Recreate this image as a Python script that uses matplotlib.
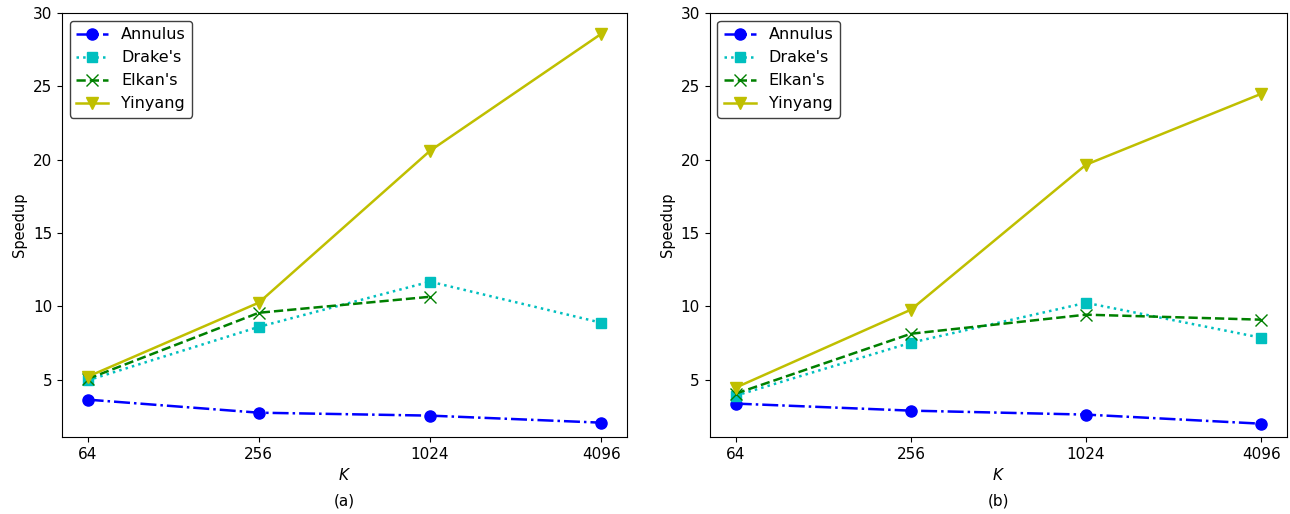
import numpy as np
import matplotlib
matplotlib.use("Agg")
import matplotlib.pyplot as plt
from matplotlib.ticker import FixedLocator, FixedFormatter, NullLocator

K = [64, 256, 1024, 4096]
K_LABELS = ["64", "256", "1024", "4096"]

# panel (a)
annulus_a = [3.64, 2.75, 2.55, 2.07]
drake_a = [4.95, 8.6, 11.68, 8.88]
elkan_a = [5.05, 9.56, 10.65]
yinyang_a = [5.2, 10.25, 20.6, 28.57]

# panel (b)
annulus_b = [3.37, 2.89, 2.62, 2.0]
drake_b = [3.91, 7.52, 10.24, 7.86]
elkan_b = [4.05, 8.13, 9.43, 9.09]
yinyang_b = [4.46, 9.77, 19.65, 24.48]

plt.rcParams["xtick.labelsize"] = 11
plt.rcParams["ytick.labelsize"] = 11

fig = plt.figure(figsize=(12.9, 5.14), dpi=100)
ax_a = fig.add_axes([0.048, 0.150, 0.438, 0.825])
ax_b = fig.add_axes([0.550, 0.150, 0.448, 0.825])

for ax, ann, dra, elk, yin, cap in [
    (ax_a, annulus_a, drake_a, elkan_a, yinyang_a, "(a)"),
    (ax_b, annulus_b, drake_b, elkan_b, yinyang_b, "(b)"),
]:
    ax.plot(K, ann, "bo-.", ms=8, lw=1.8, label="Annulus")
    ax.plot(K, dra, "cs:", ms=7, lw=1.8, label="Drake's")
    ax.plot(K[:len(elk)], elk, "gx--", ms=8, lw=1.8, label="Elkan's")
    ax.plot(K, yin, "yv-", ms=8, lw=1.8, label="Yinyang")
    ax.set_xscale("log", base=2)
    ax.xaxis.set_major_locator(FixedLocator(K))
    ax.xaxis.set_major_formatter(FixedFormatter(K_LABELS))
    ax.xaxis.set_minor_locator(NullLocator())
    ax.set_ylim(1.1, 30)
    ax.set_yticks([5, 10, 15, 20, 25, 30])
    ax.set_xlabel("$K$", fontsize=11)
    ax.set_ylabel("Speedup", fontsize=10.5)
    leg = ax.legend(loc="upper left", fontsize=11.5, framealpha=1, edgecolor="0.25")
    ax.text(0.5, -0.15, cap, transform=ax.transAxes, ha="center", va="center", fontsize=11)

fig.savefig("out.png", dpi=100)
